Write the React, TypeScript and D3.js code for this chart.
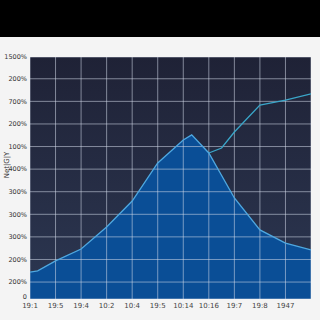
import React from "react";
import * as d3 from "d3";

const xLabels = ["19:1", "19:5", "19:4", "10:2", "10:4", "19:5", "10:14", "10:16", "19:7", "19:8", "1947"];
const yTickLabels = ["0", "200%", "200%", "300%", "300%", "300%", "400%", "100%", "200%", "700%", "200%", "1500%"];
const yTickValues = [0, 105, 245, 385, 525, 665, 805, 945, 1085, 1225, 1365, 1500];

const areaX = [0, 0.3, 1, 2, 3, 4, 5, 6, 6.33, 7, 8, 9, 10, 11];
const areaY = [167, 174, 236, 310, 446, 607, 843, 986, 1017, 905, 626, 428, 347, 304];

const lineX = [7, 7.5, 8, 9, 10, 11];
const lineY = [905, 936, 1035, 1202, 1233, 1271];

export default function App() {
  const W = 320, H = 320;
  const left = 30, right = 311, top = 57, bottom = 299;
  const x = d3.scaleLinear().domain([0, 11]).range([left, right]);
  const y = d3.scaleLinear().domain([0, 1500]).range([bottom, top]);

  const areaPts = areaX.map((v, i) => [v, areaY[i]] as [number, number]);
  const linePts = lineX.map((v, i) => [v, lineY[i]] as [number, number]);

  const areaGen = d3.area<[number, number]>().x(d => x(d[0])).y0(y(0)).y1(d => y(d[1]));
  const lineGen = d3.line<[number, number]>().x(d => x(d[0])).y(d => y(d[1]));

  const gridX = d3.range(0, 12);

  return (
    <svg width={W} height={H} style={{ position: "absolute", left: 0, top: 0 }} fontFamily="'DejaVu Sans', sans-serif">
      <defs>
        <linearGradient id="bg" x1="0" y1="0" x2="0" y2="1">
          <stop offset="0%" stopColor="#1f2236" />
          <stop offset="100%" stopColor="#2c3752" />
        </linearGradient>
        <clipPath id="clip">
          <rect x={left} y={top} width={right - left} height={bottom - top} />
        </clipPath>
      </defs>
      <rect x={0} y={0} width={W} height={H} fill="#f4f4f4" />
      <rect x={0} y={0} width={W} height={37} fill="#000000" />
      <rect x={left} y={top} width={right - left} height={bottom - top} fill="url(#bg)" />
      <g clipPath="url(#clip)">
        <path d={areaGen(areaPts) || ""} fill="#0a4e96" />
        {gridX.map(i => (
          <line key={"gx" + i} x1={x(i)} x2={x(i)} y1={top} y2={bottom} stroke="#d4dbea" strokeOpacity={0.55} strokeWidth={1} />
        ))}
        {yTickValues.map((v, i) => (
          <line key={"gy" + i} x1={left} x2={right} y1={y(v)} y2={y(v)} stroke="#d4dbea" strokeOpacity={0.55} strokeWidth={1} />
        ))}
        <path d={lineGen(linePts) || ""} fill="none" stroke="#3aa6c9" strokeWidth={1.3} />
        <path d={lineGen(areaPts) || ""} fill="none" stroke="#4fa8e0" strokeWidth={1.3} />
      </g>
      {yTickValues.map((v, i) => (
        <text key={"yl" + i} x={27} y={i === 0 ? y(v) - 2 : y(v)} dy="0.35em" textAnchor="end" fontSize={6.5} fill="#333">
          {yTickLabels[i]}
        </text>
      ))}
      {xLabels.map((l, i) => (
        <text key={"xl" + i} x={x(i)} y={308} textAnchor="middle" fontSize={7} fill="#444">
          {l}
        </text>
      ))}
      <text transform="translate(9,165) rotate(-90)" textAnchor="middle" fontSize={7} fill="#333">
        Net|G|Y
      </text>
    </svg>
  );
}
